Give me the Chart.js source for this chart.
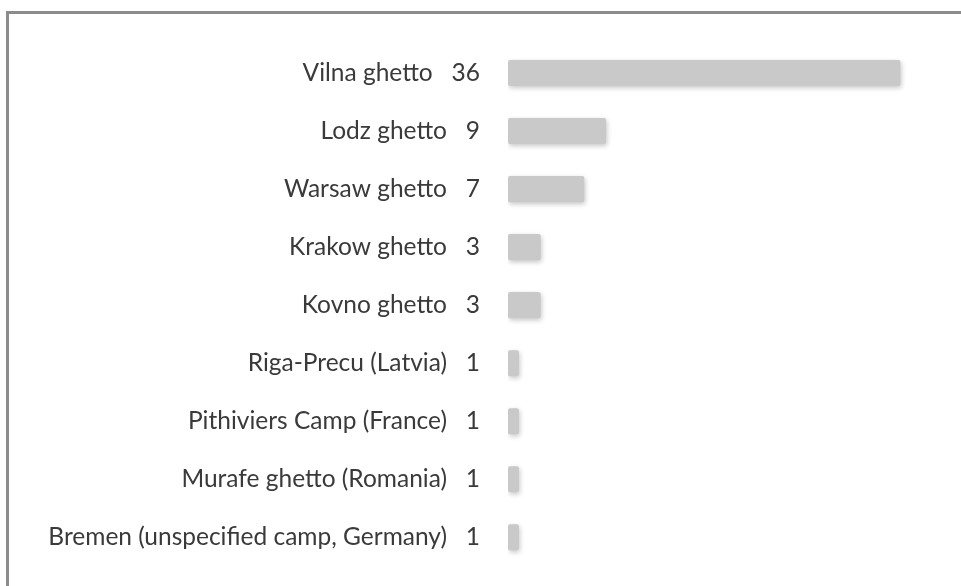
<!DOCTYPE html>
<html><head><meta charset="utf-8">
<script src="https://cdn.jsdelivr.net/npm/chart.js@4/dist/chart.umd.min.js"></script>
<style>
html,body{margin:0;padding:0;background:#fff;width:961px;height:586px;overflow:hidden}
#wrap{position:absolute;left:0;top:0;width:961px;height:601px}
#ft{position:absolute;left:6px;top:11px;width:955px;height:3px;background:#8c8c8c}
#fl{position:absolute;left:6px;top:11px;width:3px;height:575px;background:#8c8c8c}
</style></head><body>
<div id="wrap"><canvas id="c" width="961" height="601"></canvas></div>
<div id="ft"></div><div id="fl"></div>
<script>
const categories = ["Vilna ghetto","Lodz ghetto","Warsaw ghetto","Krakow ghetto","Kovno ghetto","Riga-Precu (Latvia)","Pithiviers Camp (France)","Murafe ghetto (Romania)","Bremen (unspecified camp, Germany)"];
const counts = [36,9,7,3,3,1,1,1,1];
const tickLabels = categories.map((c,i)=>c+"   "+counts[i]);

const shadowPlugin = {
  id:'shadow',
  beforeDatasetsDraw(chart){ const ctx=chart.ctx; ctx.save(); ctx.shadowColor='rgba(0,0,0,0.22)'; ctx.shadowBlur=5; ctx.shadowOffsetX=1; ctx.shadowOffsetY=2; },
  afterDatasetsDraw(chart){ chart.ctx.restore(); }
};

new Chart(document.getElementById('c'),{
  type:'bar',
  data:{labels:tickLabels,datasets:[{data:counts,backgroundColor:'#c9c9c9',borderRadius:2,borderSkipped:false,categoryPercentage:1,barPercentage:0.45}]},
  options:{
    indexAxis:'y',responsive:false,animation:false,
    layout:{autoPadding:false,padding:{top:44,bottom:20,left:0,right:17}},
    plugins:{legend:{display:false},tooltip:{enabled:false}},
    scales:{
      x:{display:false,min:0,max:40},
      y:{grid:{display:false},border:{display:false},
         afterFit(s){s.width=508;},
         ticks:{color:'#3a3a3a',padding:20,font:{family:'Lato, "Open Sans", sans-serif',size:24.5}}}
    }
  },
  plugins:[shadowPlugin]
});
</script></body></html>
